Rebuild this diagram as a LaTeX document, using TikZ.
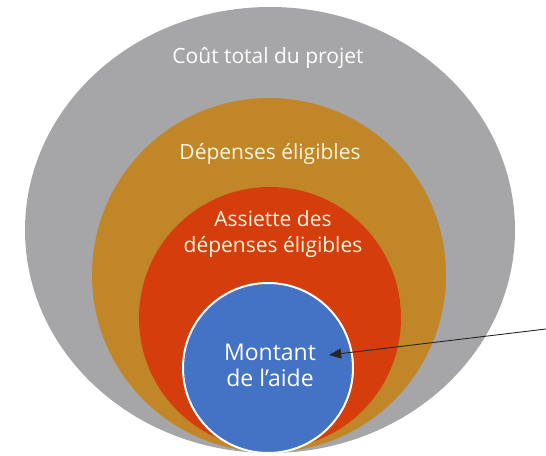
\documentclass[tikz,border=0pt]{standalone}
\usepackage{fontspec}
\setmainfont{Open Sans}
\usepackage{tikz}
\usetikzlibrary{arrows.meta,calc,shapes.geometric}
\definecolor{grisclair}{RGB}{166,166,168}
\definecolor{ocre}{RGB}{193,134,40}
\definecolor{rougebrique}{RGB}{213,62,12}
\definecolor{bleuaide}{RGB}{68,114,196}
\definecolor{creme}{RGB}{255,246,222}
\tikzset{
  disque/.style={
    circle,
    draw=none,
    inner sep=0pt
  },
  etiquette/.style={
    align=center,
    text=white,
    inner sep=2pt,
    font=\fontsize{21}{26}\selectfont
  },
  fleche/.style={
    -{Triangle[length=12pt,width=10pt]},
    line width=.9pt,
    black!85
  }
}

\begin{document}
\begin{tikzpicture}[x=1pt,y=1pt]
\useasboundingbox (0,0) rectangle (546,455);
\node[ellipse,draw=none,fill=grisclair,minimum width=490,minimum height=446,inner sep=0pt] (total) at (270,225) {};
\node[disque,fill=ocre,minimum size=354] (eligibles) at (269,180) {};
\node[disque,fill=rougebrique,minimum size=262] (assiette) at (270,137) {};
\node[disque,fill=bleuaide,draw=white,line width=2pt,minimum size=170] (montant) at (268,87) {};
\node[etiquette] (ltotal) at (268,397) {Coût total du projet};
\node[etiquette,text=creme] (leligibles) at (270,301) {Dépenses éligibles};
\node[etiquette,text=creme] (lassiette) at (273,221) {Assiette des\\dépenses éligibles};
\node[etiquette,font=\fontsize{23}{26}\selectfont,inner xsep=13pt] (laide) at (270,90) {Montant\\de l’aide};
\coordinate (depart) at (546,126);
\draw[fleche] (depart) -- ([yshift=10pt]laide.east);
\end{tikzpicture}
\end{document}
